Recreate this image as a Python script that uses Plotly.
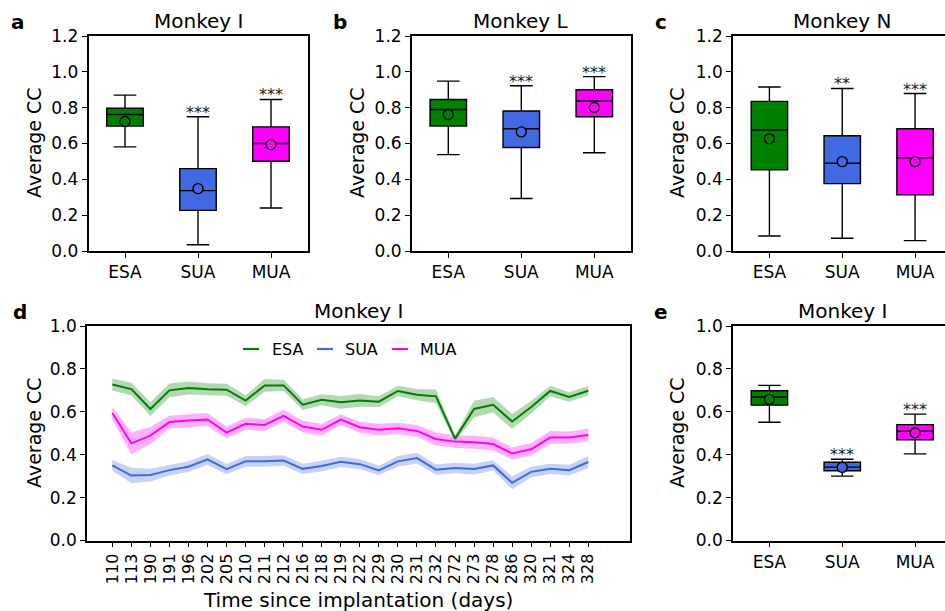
import plotly.graph_objects as go

W, H = 945, 611
FONT = "DejaVu Sans"

groups = ["ESA", "SUA", "MUA"]
colors = ["#008000", "#4169E1", "#FF00FF"]
band_colors = ["rgba(0,128,0,0.3)", "rgba(65,105,225,0.3)", "rgba(255,0,255,0.3)"]

# ---- box panel data (whisker low, Q1, median, Q3, whisker high, mean) ----
a_low = [0.581, 0.035, 0.240]
a_q1 = [0.697, 0.227, 0.501]
a_med = [0.762, 0.337, 0.600]
a_q3 = [0.797, 0.460, 0.693]
a_high = [0.870, 0.749, 0.846]
a_mean = [0.723, 0.348, 0.593]
a_stars = ["", "***", "***"]

b_low = [0.538, 0.293, 0.548]
b_q1 = [0.697, 0.578, 0.749]
b_med = [0.790, 0.682, 0.837]
b_q3 = [0.846, 0.781, 0.900]
b_high = [0.948, 0.922, 0.973]
b_mean = [0.762, 0.665, 0.801]
b_stars = ["", "***", "***"]

c_low = [0.084, 0.071, 0.058]
c_q1 = [0.453, 0.376, 0.313]
c_med = [0.675, 0.490, 0.520]
c_q3 = [0.835, 0.643, 0.682]
c_high = [0.915, 0.907, 0.879]
c_mean = [0.626, 0.499, 0.499]
c_stars = ["", "**", "***"]

e_low = [0.551, 0.300, 0.404]
e_q1 = [0.631, 0.325, 0.470]
e_med = [0.669, 0.342, 0.509]
e_q3 = [0.698, 0.365, 0.540]
e_high = [0.723, 0.379, 0.589]
e_mean = [0.658, 0.341, 0.502]
e_stars = ["", "***", "***"]

# ---- panel d time series ----
days = ["110", "113", "190", "191", "196", "202", "205", "210", "211", "212", "216", "218", "219",
        "222", "229", "230", "231", "232", "272", "273", "278", "286", "320", "321", "324", "328"]
esa_mean = [0.727, 0.706, 0.613, 0.700, 0.711, 0.705, 0.703, 0.652, 0.723, 0.723, 0.633, 0.656, 0.644,
            0.653, 0.647, 0.697, 0.680, 0.672, 0.475, 0.613, 0.633, 0.555, 0.622, 0.697, 0.669, 0.698]
esa_err = [0.028, 0.030, 0.032, 0.032, 0.030, 0.028, 0.028, 0.025, 0.030, 0.026, 0.025, 0.026, 0.030,
           0.030, 0.025, 0.025, 0.026, 0.032, 0.015, 0.038, 0.036, 0.035, 0.030, 0.025, 0.022, 0.022]
sua_mean = [0.350, 0.303, 0.305, 0.328, 0.344, 0.378, 0.333, 0.369, 0.369, 0.373, 0.334, 0.347, 0.367,
            0.356, 0.327, 0.369, 0.384, 0.330, 0.338, 0.333, 0.350, 0.269, 0.320, 0.334, 0.328, 0.366]
sua_err = [0.025, 0.036, 0.030, 0.025, 0.025, 0.025, 0.024, 0.025, 0.025, 0.025, 0.024, 0.025, 0.024,
           0.024, 0.022, 0.025, 0.025, 0.024, 0.025, 0.025, 0.024, 0.030, 0.025, 0.024, 0.025, 0.028]
mua_mean = [0.594, 0.453, 0.489, 0.552, 0.559, 0.564, 0.503, 0.544, 0.539, 0.581, 0.531, 0.516, 0.564,
            0.528, 0.516, 0.523, 0.511, 0.473, 0.461, 0.458, 0.450, 0.406, 0.425, 0.480, 0.480, 0.492]
mua_err = [0.030, 0.052, 0.040, 0.030, 0.030, 0.030, 0.028, 0.028, 0.028, 0.028, 0.028, 0.028, 0.025,
           0.026, 0.028, 0.026, 0.028, 0.030, 0.030, 0.030, 0.030, 0.028, 0.030, 0.030, 0.028, 0.030]

positions = [1, 2, 3]


def fx(px):
    return px / W


def fy(py):
    return 1 - py / H


fig = go.Figure()

box_panels = [
    ("x", "y", a_low, a_q1, a_med, a_q3, a_high, a_mean, a_stars),
    ("x2", "y2", b_low, b_q1, b_med, b_q3, b_high, b_mean, b_stars),
    ("x3", "y3", c_low, c_q1, c_med, c_q3, c_high, c_mean, c_stars),
    ("x5", "y5", e_low, e_q1, e_med, e_q3, e_high, e_mean, e_stars),
]

annotations = []
for xa, ya, lo, q1, md, q3, hi, mn, st in box_panels:
    for i in range(3):
        fig.add_trace(go.Box(
            x=[positions[i]], q1=[q1[i]], median=[md[i]], q3=[q3[i]],
            lowerfence=[lo[i]], upperfence=[hi[i]],
            width=0.5, whiskerwidth=0.62, fillcolor=colors[i],
            line=dict(color="black", width=1.4), boxpoints=False,
            xaxis=xa, yaxis=ya, showlegend=False, hoverinfo="skip"))
        fig.add_trace(go.Scatter(
            x=[positions[i]], y=[mn[i]], mode="markers",
            marker=dict(symbol="circle", size=10, color=colors[i],
                        line=dict(color="black", width=1.4)),
            xaxis=xa, yaxis=ya, showlegend=False, hoverinfo="skip"))
        if st[i]:
            annotations.append(dict(
                x=positions[i], y=hi[i], xref=xa, yref=ya, text=st[i],
                showarrow=False, yanchor="bottom", yshift=-7,
                font=dict(family=FONT, size=16, color="#1a1a1a")))

# panel d
series = [(esa_mean, esa_err), (sua_mean, sua_err), (mua_mean, mua_err)]
for k, (m, e) in enumerate(series):
    upper = [v + s for v, s in zip(m, e)]
    lower = [v - s for v, s in zip(m, e)]
    fig.add_trace(go.Scatter(
        x=days + days[::-1], y=upper + lower[::-1], fill="toself",
        fillcolor=band_colors[k], line=dict(width=0), mode="lines",
        xaxis="x4", yaxis="y4", showlegend=False, hoverinfo="skip"))
for k, (m, e) in enumerate(series):
    fig.add_trace(go.Scatter(
        x=days, y=m, mode="lines", line=dict(color=colors[k], width=2),
        xaxis="x4", yaxis="y4", showlegend=False, name=groups[k]))

tickfont = dict(family=FONT, size=17, color="black")
base = dict(showline=True, linecolor="black", linewidth=1.5, ticks="outside",
            ticklen=5, tickwidth=1.3, tickcolor="black", showgrid=False,
            zeroline=False, tickfont=tickfont, automargin=False)

box_x = dict(base, range=[0.5, 3.5], tickvals=positions, ticktext=groups, mirror=True)
clip_range = [0.5, 3.5 - (951.5 - 945) / 73.0]

top_y = [fy(251), fy(36)]
bot_y = [fy(540.5), fy(326)]

fig.update_layout(
    width=W, height=H, margin=dict(l=0, r=0, t=0, b=0, autoexpand=False),
    paper_bgcolor="white", plot_bgcolor="white",
    font=dict(family=FONT, color="black"),
    xaxis=dict(box_x, domain=[fx(88.5), fx(307.5)], anchor="y"),
    yaxis=dict(base, domain=top_y, range=[0, 1.2], dtick=0.2, tickformat=".1f",
               mirror=True, anchor="x"),
    xaxis2=dict(box_x, domain=[fx(411.8), fx(630.8)], anchor="y2"),
    yaxis2=dict(base, domain=top_y, range=[0, 1.2], dtick=0.2, tickformat=".1f",
                mirror=True, anchor="x2"),
    xaxis3=dict(box_x, domain=[fx(733), 1.0], range=clip_range, anchor="y3"),
    yaxis3=dict(base, domain=top_y, range=[0, 1.2], dtick=0.2, tickformat=".1f",
                mirror=False, anchor="x3"),
    xaxis4=dict(base, domain=[fx(87), fx(630)], type="category",
                range=[-1.33, len(days) - 1 + 2.19], tickangle=-90,
                tickfont=dict(family=FONT, size=16, color="black"),
                mirror=True, anchor="y4"),
    yaxis4=dict(base, domain=bot_y, range=[0, 1.0], dtick=0.2, tickformat=".1f",
                mirror=True, anchor="x4"),
    xaxis5=dict(box_x, domain=[fx(733), 1.0], range=clip_range, anchor="y5"),
    yaxis5=dict(base, domain=bot_y, range=[0, 1.0], dtick=0.2, tickformat=".1f",
                mirror=False, anchor="x5"),
)


def text_ann(x, y, text, size, bold=False, angle=0, xanchor="center", yanchor="middle"):
    return dict(x=fx(x), y=fy(y), xref="paper", yref="paper", text=("<b>%s</b>" % text) if bold else text,
                showarrow=False, textangle=angle, xanchor=xanchor, yanchor=yanchor,
                font=dict(family=FONT, size=size, color="black"))

# panel letters
for lx, ly, t in [(18, 22, "a"), (340, 22, "b"), (661, 22, "c"), (20, 312, "d"), (661, 312, "e")]:
    annotations.append(text_ann(lx, ly, t, 20, bold=True))

# titles
for tx, ty, t in [(198, 21, "Monkey I"), (521, 21, "Monkey L"), (842, 21, "Monkey N"),
                  (358, 311, "Monkey I"), (842, 311, "Monkey I")]:
    annotations.append(text_ann(tx, ty, t, 20))

# y labels
for yx, yy in [(34, 143), (357, 143), (677, 143), (34, 433), (677, 433)]:
    annotations.append(text_ann(yx, yy, "Average CC", 19, angle=-90))

# x title of d
annotations.append(text_ann(358, 600, "Time since implantation (days)", 20))

# legend of d
leg = [(243, 270, 0), (317, 343, 1), (392, 418, 2)]
shapes = []
for lx, tx, k in leg:
    shapes.append(dict(type="line", xref="paper", yref="paper",
                       x0=fx(lx), x1=fx(lx + 16), y0=fy(349), y1=fy(349),
                       line=dict(color=colors[k], width=2.2)))
    annotations.append(text_ann(tx, 349, groups[k], 16, xanchor="left"))

fig.update_layout(annotations=annotations, shapes=shapes)

fig.write_html("out.html")
